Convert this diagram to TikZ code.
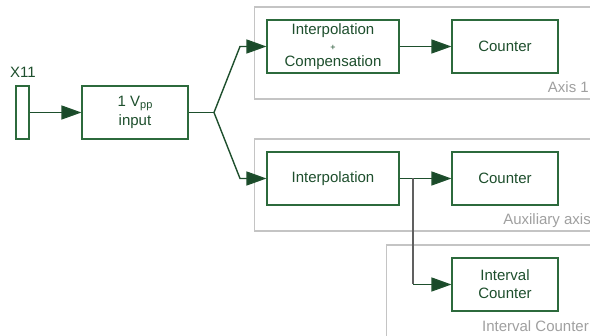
\documentclass[tikz,border=0pt]{standalone}
\usepackage{fontspec}
\setmainfont{Liberation Sans}
\usetikzlibrary{arrows.meta}
\definecolor{tgreen}{HTML}{1E4F2D}
\definecolor{lgreen}{HTML}{2C6A3C}
\definecolor{agreen}{HTML}{1A4A2A}
\definecolor{fgray}{HTML}{C4C4C4}
\definecolor{lblgray}{HTML}{A0A0A0}
\definecolor{vgray}{HTML}{606060}
\tikzset{
  blk/.style={draw=lgreen, line width=1.1pt, fill=white, text=tgreen, align=center,
    inner sep=0pt, minimum width=106pt, minimum height=53pt,
    font=\fontsize{15}{18}\selectfont},
  wideblk/.style={blk, minimum width=132pt},
  frm/.style={draw=fgray, line width=1.2pt},
  frmlbl/.style={text=lblgray, anchor=east, inner sep=0pt, font=\fontsize{15}{18}\selectfont},
  conn/.style={draw=tgreen, line width=1.4pt},
  arr/.style={conn, -{Triangle[length=20pt,width=14pt,fill=agreen]}},
}
\begin{document}
\begin{tikzpicture}[x=1pt,y=-1pt]
\clip (0,0) rectangle (590,336);
\fill[white] (0,0) rectangle (590,336);
% frames
\draw[frm] (600,7) -- (254.5,7) -- (254.5,99) -- (600,99);
\draw[frm] (600,139) -- (254.5,139) -- (254.5,231) -- (600,231);
\draw[frm] (600,245) -- (386.5,245) -- (386.5,350);
\node[frmlbl] (lax1) at (589,87) {Axis 1};
\node[frmlbl] (laux) at (591,221) {Auxiliary axis};
\node[frmlbl] (livc) at (589,326) {Interval Counter};
% nodes
\node[blk, minimum width=13pt] (x11) at (22.5,112.5) {};
\node[text=tgreen, font=\fontsize{15}{18}\selectfont, inner sep=0pt] (x11l) at (23,72) {X11};
\node[blk, font=\fontsize{15}{19}\selectfont] (vpp) at (135,112.5) {1 V\raisebox{-1.5pt}{\fontsize{11}{11}\selectfont pp}\\input};
\node[wideblk, font=\fontsize{15}{16}\selectfont] (ic) at (333,46.5) {Interpolation\\{\fontsize{9}{9}\selectfont +}\\Compensation};
\node[blk] (c1) at (505,46.5) {Counter};
\node[wideblk] (ip) at (333,178.5) {Interpolation};
\node[blk] (c2) at (505,178.5) {Counter};
\node[blk] (ivc) at (505,284.5) {Interval\\Counter};
% connectors
\coordinate (b) at (214,112.5);
\coordinate (b1) at (240,46.5);
\coordinate (b2) at (240,178.5);
\coordinate (sp) at (413,178.5);
\coordinate (sd) at (413,284.5);
\draw[arr] (x11.east) -- (vpp.west);
\draw[conn] (vpp.east) -- (b);
\draw[arr] (b) -- (b1) -- (ic.west);
\draw[arr] (b) -- (b2) -- (ip.west);
\draw[arr] (ic.east) -- (c1.west);
\draw[arr] (ip.east) -- (c2.west);
\draw[draw=vgray, line width=1.4pt] (sp) -- (sd);
\draw[arr] (sd) -- (ivc.west);
\end{tikzpicture}
\end{document}
